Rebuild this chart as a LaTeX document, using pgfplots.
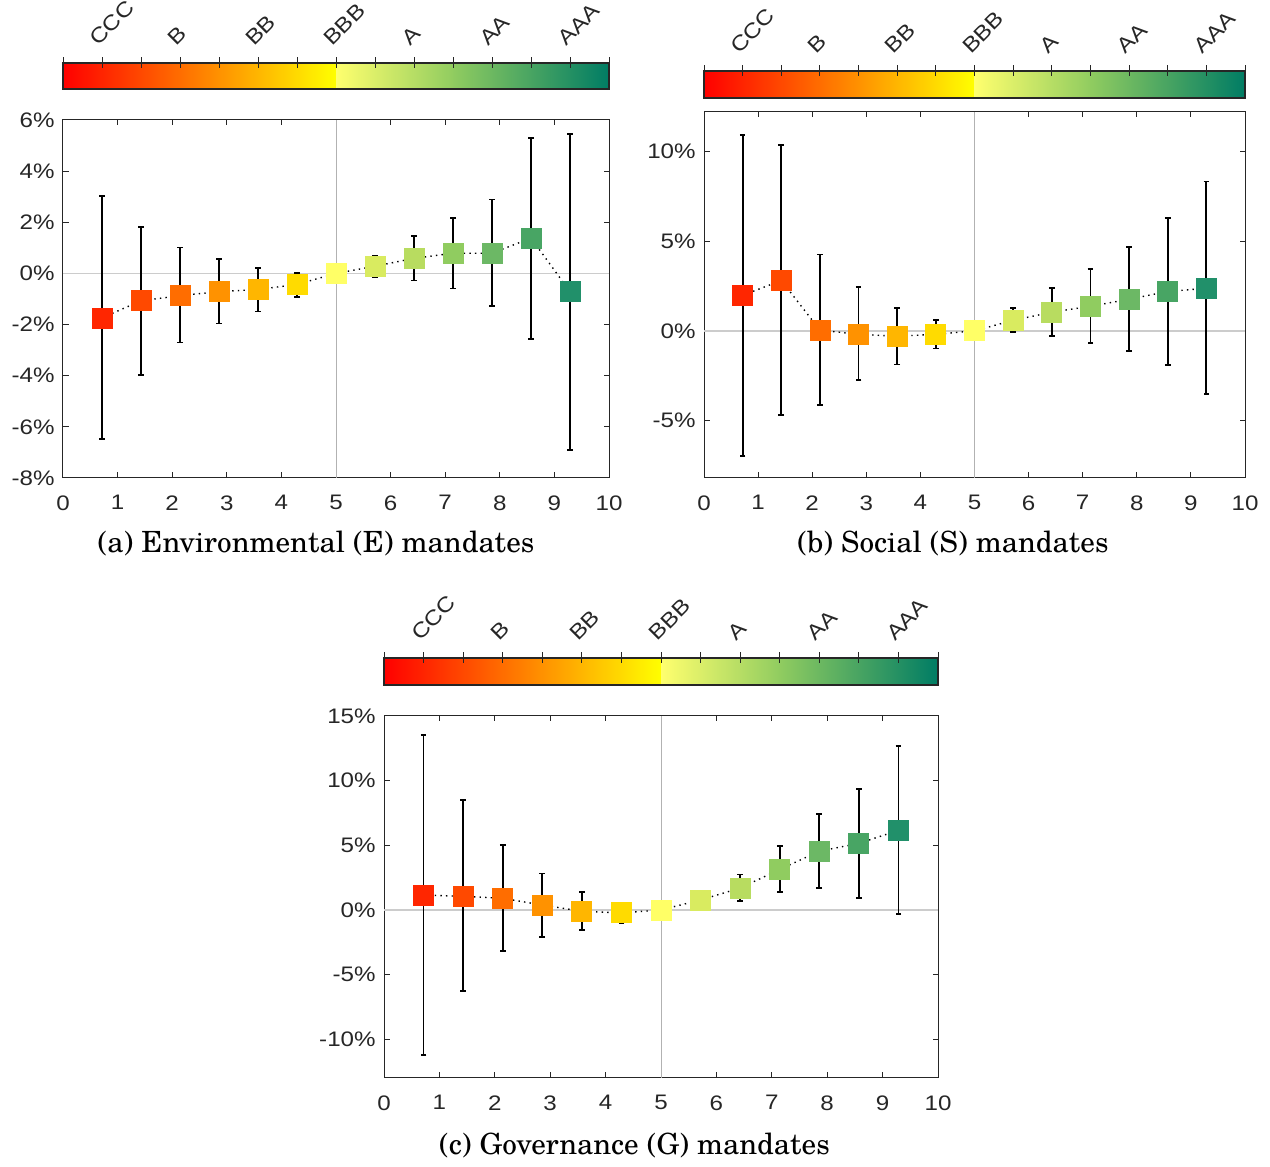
\documentclass[border=0pt]{standalone}
\usepackage{pgfplots}
\pgfplotsset{compat=1.18}
\usepackage{pgfplotstable}
\usepackage{fontspec}
\setmainfont{TeX Gyre Schola}
\newfontfamily\tickfont[FakeStretch=1.15]{Liberation Sans}

\definecolor{c1}{RGB}{255,38,0}
\definecolor{c2}{RGB}{255,73,0}
\definecolor{c3}{RGB}{255,109,0}
\definecolor{c4}{RGB}{255,146,0}
\definecolor{c5}{RGB}{255,182,0}
\definecolor{c6}{RGB}{255,219,0}
\definecolor{c7}{RGB}{255,255,102}
\definecolor{c8}{RGB}{217,235,96}
\definecolor{c9}{RGB}{184,220,96}
\definecolor{c10}{RGB}{144,204,96}
\definecolor{c11}{RGB}{108,184,101}
\definecolor{c12}{RGB}{72,165,100}
\definecolor{c13}{RGB}{33,144,106}
\definecolor{cbred}{RGB}{255,0,0}
\definecolor{cbyel}{RGB}{255,255,0}
\definecolor{cbpale}{RGB}{255,255,110}
\definecolor{cbmid}{RGB}{144,204,96}
\definecolor{cbteal}{RGB}{0,124,100}
\definecolor{axcol}{RGB}{38,38,38}

% x, estimate, upper bound, lower bound, colour class
\pgfplotstableread{
x y hi lo c
0.714286 -1.74 3.03 -6.49 c1
1.428571 -1.07 1.80 -3.96 c2
2.142857 -0.87 1.01 -2.70 c3
2.857143 -0.71 0.55 -1.96 c4
3.571429 -0.63 0.22 -1.49 c5
4.285714 -0.43 0.01 -0.91 c6
5.000000 0.00 0.00 0.00 c7
5.714286 0.28 0.67 -0.14 c8
6.428571 0.59 1.45 -0.28 c9
7.142857 0.79 2.16 -0.59 c10
7.857143 0.79 2.89 -1.28 c11
8.571429 1.38 5.30 -2.58 c12
9.285714 -0.71 5.46 -6.92 c13
}\dataE

\pgfplotstableread{
x y hi lo c
0.714286 1.98 10.93 -6.96 c1
1.428571 2.81 10.37 -4.70 c2
2.142857 0.04 4.26 -4.13 c3
2.857143 -0.19 2.44 -2.74 c4
3.571429 -0.30 1.26 -1.87 c5
4.285714 -0.19 0.61 -0.98 c6
5.000000 0.00 0.00 0.00 c7
5.714286 0.59 1.28 -0.07 c8
6.428571 1.04 2.37 -0.28 c9
7.142857 1.37 3.43 -0.69 c10
7.857143 1.76 4.69 -1.13 c11
8.571429 2.20 6.30 -1.91 c12
9.285714 2.37 8.33 -3.54 c13
}\dataS

\pgfplotstableread{
x y hi lo c
0.714286 1.15 13.54 -11.20 c1
1.428571 1.05 8.49 -6.28 c2
2.142857 0.90 5.03 -3.15 c3
2.857143 0.38 2.82 -2.08 c4
3.571429 -0.10 1.36 -1.56 c5
4.285714 -0.23 0.56 -1.03 c6
5.000000 0.00 0.00 0.00 c7
5.714286 0.77 1.23 0.28 c8
6.428571 1.69 2.74 0.69 c9
7.142857 3.13 4.97 1.41 c10
7.857143 4.54 7.44 1.72 c11
8.571429 5.15 9.38 0.90 c12
9.285714 6.15 12.67 -0.33 c13
}\dataG

\pgfplotsset{
  mainax/.style={
    scale only axis, anchor=south west,
    xmin=0, xmax=10, xtick={0,...,10},
    tick align=inside, tick pos=both, major tick length=2.75pt,
    axis line style={axcol, line width=0.5pt},
    tick style={axcol, line width=0.5pt},
    tick label style={font=\tickfont\fontsize{10.5}{12}\selectfont, text=axcol, inner sep=0pt},
    xticklabel style={anchor=north, yshift=-8.5pt},
    yticklabel style={anchor=east, xshift=-4pt},
    /pgf/number format/assume math mode=true,
    xlabel style={font=\fontsize{14.6}{17}\selectfont, text=black, anchor=base, at={(axis description cs:0.5,0)}, yshift=-37.5pt},
  },
  cbar/.style={
    scale only axis, anchor=south west,
    xmin=0, xmax=10, ymin=0, ymax=1, ytick=\empty,
    xtick={0,0.714286,1.428571,2.142857,2.857143,3.571429,4.285714,5,5.714286,6.428571,7.142857,7.857143,8.571429,9.285714,10},
    xticklabels={,CCC,,B,,BB,,BBB,,A,,AA,,AAA,},
    xtick pos=right, xticklabel pos=right, xtick align=center, major tick length=5.5pt,
    axis line style={axcol, line width=0.6pt},
    tick style={axcol, line width=0.5pt},
    xticklabel style={rotate=45, anchor=south west, inner sep=0pt, font=\tickfont\fontsize{10.5}{12}\selectfont, text=axcol, xshift=2.4pt, yshift=4.8pt},
    axis on top,
  },
  sqmarks/.style={
    scatter, only marks, mark=square*, mark size=5pt,
    scatter src=explicit symbolic,
    scatter/classes={
      c1={fill=c1,draw=c1}, c2={fill=c2,draw=c2}, c3={fill=c3,draw=c3},
      c4={fill=c4,draw=c4}, c5={fill=c5,draw=c5}, c6={fill=c6,draw=c6},
      c7={fill=c7,draw=c7}, c8={fill=c8,draw=c8}, c9={fill=c9,draw=c9},
      c10={fill=c10,draw=c10}, c11={fill=c11,draw=c11}, c12={fill=c12,draw=c12},
      c13={fill=c13,draw=c13}},
  },
  dotline/.style={black, line width=0.7pt, dash pattern=on 0.7pt off 2.1pt, mark=none},
  ebars/.style={draw=none, mark=none, forget plot,
    skip coords between index={6}{7},
    error bars/.cd, y dir=both, y explicit,
    error bar style={draw=black, line width=0.9pt, solid},
    error mark options={rotate=90, mark size=1.4pt, draw=black, line width=0.9pt}},
}

\newcommand{\cbfill}{%
  \fill[left color=cbred, right color=cbyel] (axis cs:0,0) rectangle (axis cs:5,1);
  \fill[left color=cbpale, right color=cbmid] (axis cs:5,0) rectangle (axis cs:7.16,1);
  \fill[left color=cbmid, right color=cbteal] (axis cs:7.142857,0) rectangle (axis cs:10,1);
}

\begin{document}
\begin{tikzpicture}
\useasboundingbox (0,0) rectangle (635pt,583.5pt);

% ---------- colorbars ----------
\begin{axis}[cbar, at={(31.5pt,539pt)}, width=273pt, height=13pt]
\cbfill
\end{axis}
\begin{axis}[cbar, at={(352pt,534.5pt)}, width=270.5pt, height=13.5pt]
\cbfill
\end{axis}
\begin{axis}[cbar, at={(192pt,241pt)}, width=277pt, height=13.5pt]
\cbfill
\end{axis}

% ---------- (a) ----------
\begin{axis}[mainax, at={(31.5pt,344.5pt)}, width=273pt, height=179pt,
  ymin=-8, ymax=6, ytick={-8,-6,-4,-2,0,2,4,6},
  yticklabels={-8\%,-6\%,-4\%,-2\%,0\%,2\%,4\%,6\%},
  xlabel={(a) Environmental (E) mandates}, xlabel style={xshift=-10pt}]
\addplot[sqmarks] table[x=x, y=y, meta=c] {\dataE};
\draw[gray!40, line width=0.8pt] (axis cs:0,0) -- (axis cs:10,0);
\draw[gray!60, line width=0.4pt] (axis cs:5,-8) -- (axis cs:5,6);
\addplot[dotline] table[x=x, y=y] {\dataE};
\addplot[ebars] table[x=x, y=y, y error plus expr=\thisrow{hi}-\thisrow{y}, y error minus expr=\thisrow{y}-\thisrow{lo}] {\dataE};
\end{axis}

% ---------- (b) ----------
\begin{axis}[mainax, at={(352pt,344.5pt)}, width=270.5pt, height=183pt,
  ymin=-8.2, ymax=12.2, ytick={-5,0,5,10},
  yticklabels={-5\%,0\%,5\%,10\%},
  xlabel={(b) Social (S) mandates}, xlabel style={xshift=-10.75pt}]
\addplot[sqmarks] table[x=x, y=y, meta=c] {\dataS};
\draw[gray!40, line width=0.8pt] (axis cs:0,0) -- (axis cs:10,0);
\draw[gray!60, line width=0.4pt] (axis cs:5,-8.2) -- (axis cs:5,12.2);
\addplot[dotline] table[x=x, y=y] {\dataS};
\addplot[ebars] table[x=x, y=y, y error plus expr=\thisrow{hi}-\thisrow{y}, y error minus expr=\thisrow{y}-\thisrow{lo}] {\dataS};
\end{axis}

% ---------- (c) ----------
\begin{axis}[mainax, at={(192pt,44.5pt)}, width=277pt, height=181pt,
  ymin=-13, ymax=15, ytick={-10,-5,0,5,10,15},
  yticklabels={-10\%,-5\%,0\%,5\%,10\%,15\%},
  xlabel={(c) Governance (G) mandates}, xlabel style={xshift=-13.25pt, yshift=-1pt}]
\addplot[sqmarks] table[x=x, y=y, meta=c] {\dataG};
\draw[gray!40, line width=0.8pt] (axis cs:0,0) -- (axis cs:10,0);
\draw[gray!60, line width=0.4pt] (axis cs:5,-13) -- (axis cs:5,15);
\addplot[dotline] table[x=x, y=y] {\dataG};
\addplot[ebars] table[x=x, y=y, y error plus expr=\thisrow{hi}-\thisrow{y}, y error minus expr=\thisrow{y}-\thisrow{lo}] {\dataG};
\end{axis}
\end{tikzpicture}
\end{document}
